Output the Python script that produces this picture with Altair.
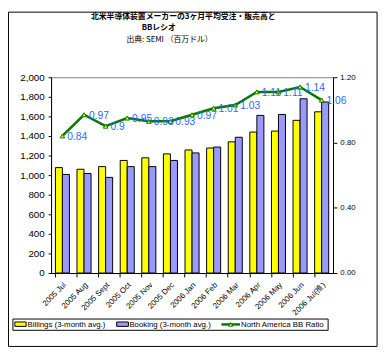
import altair as alt
import pandas as pd

months = ["2005 Jul", "2005 Aug", "2005 Sept", "2005 Oct", "2005 Nov", "2005 Dec",
          "2006 Jan", "2006 Feb", "2006 Mar", "2006 Apr", "2006 May", "2006 Jun", "2006 Jul(推)"]
billings = [1077, 1060, 1087, 1150, 1177, 1217, 1257, 1277, 1340, 1440, 1450, 1560, 1647]
bookings = [1007, 1017, 977, 1087, 1087, 1150, 1227, 1287, 1387, 1610, 1620, 1780, 1747]
ratio = [0.84, 0.97, 0.90, 0.95, 0.93, 0.93, 0.97, 1.01, 1.03, 1.11, 1.11, 1.14, 1.06]
ratio_labels = ["0.84", "0.97", "0.9", "0.95", "0.93", "0.93", "0.97", "1.01", "1.03", "1.11", "1.11", "1.14", "1.06"]
series_names = ["Billings (3-month avg.)", "Booking (3-month avg.)", "North America BB Ratio"]
title_lines = ["北米半導体装置メーカーの3ヶ月平均受注・販売高と", "BBレシオ", "出典: SEMI （百万ドル）"]

FONT = "Liberation Sans"
JP = "Noto Sans CJK JP"
YELLOW = "#FFFF00"
BLUE = "#9999FF"
GREEN = "#007A00"
LABEL_BLUE = "#3366FF"

bar_rows = []
for m, b, k in zip(months, billings, bookings):
    bar_rows.append({"month": m, "series": series_names[0], "value": b})
    bar_rows.append({"month": m, "series": series_names[1], "value": k})
bar_df = pd.DataFrame(bar_rows)
ratio_df = pd.DataFrame({"month": months, "ratio": ratio, "lab": ratio_labels})

x_enc = alt.X("month:N", sort=months, title=None,
              scale=alt.Scale(paddingInner=0.35, paddingOuter=0.2),
              axis=alt.Axis(labelAngle=-45, labelFontSize=8, labelFont=FONT, labelColor="black",
                            domainColor="black", tickColor="black", tickSize=4, bandPosition=0,
                            labelPadding=4, labelOverlap=False))

bars = alt.Chart(bar_df).mark_bar(stroke="black", strokeWidth=1).encode(
    x=x_enc,
    xOffset=alt.XOffset("series:N", sort=series_names[:2], scale=alt.Scale(paddingInner=0, paddingOuter=0)),
    y=alt.Y("value:Q", title=None, scale=alt.Scale(domain=[0, 2000]),
            axis=alt.Axis(values=list(range(0, 2001, 200)), format=",.0f", labelFontSize=10, labelFont=FONT,
                          labelColor="black", domainColor="black", tickColor="black", tickSize=3,
                          labelPadding=4, grid=False)),
    color=alt.Color("series:N", scale=alt.Scale(domain=series_names[:2], range=[YELLOW, BLUE]), legend=None),
)

y_r = alt.Y("ratio:Q", title=None, scale=alt.Scale(domain=[0, 1.2]),
            axis=alt.Axis(orient="right", values=[0, 0.2, 0.4, 0.6, 0.8, 1.0, 1.2], format=".2f",
                          labelFontSize=8, labelFont=FONT, labelColor="black", domainColor="black",
                          tickColor="black", tickSize=4, labelPadding=3, grid=False))

line = alt.Chart(ratio_df).mark_line(color=GREEN, strokeWidth=2.5).encode(x=alt.X("month:N", sort=months), y=y_r)
pts = alt.Chart(ratio_df).mark_point(shape="triangle-up", filled=True, fill=YELLOW, stroke=GREEN,
                                     strokeWidth=1, size=22, opacity=1).encode(
    x=alt.X("month:N", sort=months), y=alt.Y("ratio:Q"))
labs = alt.Chart(ratio_df).mark_text(align="left", baseline="middle", dx=5, dy=1, fontSize=10.5,
                                     font=FONT, color=LABEL_BLUE).encode(
    x=alt.X("month:N", sort=months), y=alt.Y("ratio:Q"), text="lab:N")
ratio_layer = alt.layer(line, pts, labs)

# decorations (positions in pixels relative to the plot area)
one = pd.DataFrame({"a": [0]})
border = alt.Chart(one).mark_rect(fillOpacity=0, stroke="black", strokeWidth=1).encode(
    x=alt.value(-43.5), x2=alt.value(333), y=alt.value(-66.5), y2=alt.value(275))

tdf = pd.DataFrame({"t": title_lines})
t1 = alt.Chart(tdf.iloc[[0]]).mark_text(font=JP, fontSize=8, fontWeight="bold", baseline="middle").encode(
    text="t:N", x=alt.value(135), y=alt.value(-61.5))
t2 = alt.Chart(tdf.iloc[[1]]).mark_text(font=JP, fontSize=8, fontWeight="bold", baseline="middle").encode(
    text="t:N", x=alt.value(110), y=alt.value(-50))
t3 = alt.Chart(tdf.iloc[[2]]).mark_text(font=JP, fontSize=8, baseline="middle").encode(
    text="t:N", x=alt.value(121), y=alt.value(-38.5))

leg_box = alt.Chart(one).mark_rect(fill="white", stroke="black", strokeWidth=1).encode(
    x=alt.value(-39), x2=alt.value(283), y=alt.value(247), y2=alt.value(258.5))
sw1 = alt.Chart(one).mark_rect(fill=YELLOW, stroke="black", strokeWidth=1).encode(
    x=alt.value(-37), x2=alt.value(-25.5), y=alt.value(250), y2=alt.value(254.5))
sw2 = alt.Chart(one).mark_rect(fill=BLUE, stroke="black", strokeWidth=1).encode(
    x=alt.value(67), x2=alt.value(79), y=alt.value(250), y2=alt.value(254.5))
sw3 = alt.Chart(one).mark_rule(color=GREEN, strokeWidth=2.5).encode(
    x=alt.value(174), x2=alt.value(193), y=alt.value(252.5))
sw3p = alt.Chart(one).mark_point(shape="triangle-up", filled=True, fill=YELLOW, stroke=GREEN,
                                  strokeWidth=1, size=18, opacity=1).encode(
    x=alt.value(183.5), y=alt.value(252.5))
ldf = pd.DataFrame({"t": series_names})
lt1 = alt.Chart(ldf.iloc[[0]]).mark_text(align="left", baseline="middle", font=FONT, fontSize=8).encode(
    text="t:N", x=alt.value(-24), y=alt.value(253))
lt2 = alt.Chart(ldf.iloc[[1]]).mark_text(align="left", baseline="middle", font=FONT, fontSize=8).encode(
    text="t:N", x=alt.value(80), y=alt.value(253))
lt3 = alt.Chart(ldf.iloc[[2]]).mark_text(align="left", baseline="middle", font=FONT, fontSize=8).encode(
    text="t:N", x=alt.value(194), y=alt.value(253))

deco = alt.layer(border, t1, t2, t3, leg_box, sw1, sw2, sw3, sw3p, lt1, lt2, lt3)

chart = alt.layer(bars, ratio_layer, deco).resolve_scale(
    y="independent", color="independent"
).properties(
    width=288, height=200,
    autosize=alt.AutoSizeParams(type="none"),
    padding={"left": 44, "top": 67, "right": 48, "bottom": 80},
    background="white",
).configure_view(stroke="#808080", strokeWidth=1)

chart.save("out.html", embed_options={"renderer": "svg", "actions": False})
